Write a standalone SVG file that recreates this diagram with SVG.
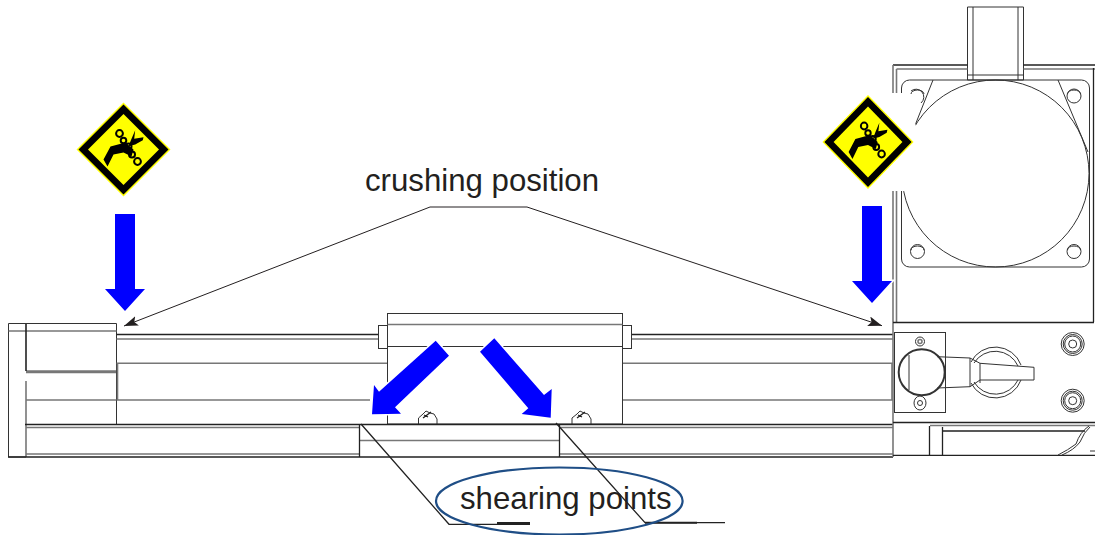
<svg xmlns="http://www.w3.org/2000/svg" xmlns:xlink="http://www.w3.org/1999/xlink" width="1095" height="535" viewBox="0 0 1095 535">
<style>
.l{fill:none;stroke:#333;stroke-width:1}
.d{fill:none;stroke:#222;stroke-width:1.3}
.g{fill:none;stroke:#777;stroke-width:1.600}
.b{fill:#0000ff;stroke:#fff;stroke-width:3;paint-order:stroke}
.t{font-family:"Liberation Sans",Arial,sans-serif;font-size:31.200px;fill:#231f20}
.c{fill:none;stroke:#231f20;stroke-width:1}
</style>
<defs>
<marker id="ah" markerWidth="16" markerHeight="12" refX="14" refY="5" orient="auto" markerUnits="userSpaceOnUse"><path d="M0 0L14 5L0 10L3 5Z" fill="#231f20"/></marker>
<g id="hazard">
<path d="M0-47L47 0L0 47L-47 0Z" fill="#ffff00"/>
<path d="M0-45L45 0L0 45L-45 0Z" fill="#000"/>
<path d="M0-35.500L35.500 0L0 35.500L-35.500 0Z" fill="#ffff00"/>
<path d="M-20 10L-13-3L2-7L10 0L8 7L0 3L-10 5L-16 17Z" fill="#000"/>
<path d="M7.700-10L11.700-19.300L10.700-10.700L20-12.300L19.300-9.300L11.700-5L5-3.300Z" fill="#000"/>
<g fill="none" stroke="#000" stroke-width="2"><circle cx="-4" cy="-16" r="3.400"/><circle cx="0" cy="-9" r="2.800"/><circle cx="5" cy="-3" r="3"/><circle cx="8.500" cy="5" r="3"/><circle cx="14" cy="12" r="3.400"/></g>
</g>
</defs>
<rect width="1095" height="535" fill="#fff"/>
<g id="machine-left">
<path class="l" d="M8.500 323.500H116.500V424M8.500 323.500V457H26"/>
<path class="g" d="M8.500 331H116.500M26 371H116M26 372.500H116M26 381V457M26 400H116"/>
<path d="M26 324V371" fill="none" stroke="#222" stroke-width="1.600"/>
</g>
<g id="rails">
<path class="d" d="M116.500 334.500H378M631 334.500H893"/>
<path class="g" d="M116.500 339H378M631 339H893M116.500 363.300H387.500M622.500 363.300H893M116.500 400H370M622.500 400H893"/>
<path class="g" d="M117.500 364V400M892 364V400"/>
</g>
<g id="carriage">
<rect class="l" x="387.500" y="313.500" width="235" height="110.500"/>
<path class="g" d="M387.500 324.500H622.500"/>
<path class="l" d="M387.500 346.500H622.500"/>
<rect class="l" x="378.500" y="325.500" width="9" height="23"/>
<rect class="l" x="622.500" y="325.500" width="9" height="23"/>
<path class="l" d="M418.500 424V418L423 414L426 411L430 413L434 414L437 419V424M572 424V418L577 414L580 411L584 413L588 414L591 419V424"/>
<path class="d" d="M423 418L431 412M424 415L428 417M577 418L585 412M578 415L582 417"/>
</g>
<g id="base">
<path class="d" d="M25 424.500H893"/>
<path class="g" d="M26 427.500H359.500M559.500 427.500H893M26 454H359.500M559.500 454H893M359.500 440.500H559.500"/>
<path class="d" d="M8 457H893M359.500 424.500V457M559.500 424.500V457"/>
</g>
<g id="machine-right">
<path class="l" d="M967.500 65V7H1023.500V65M973 7V80M1018 7V80M967.500 65V80H1023.500V65M967.500 75H1023.500"/>
<path class="d" d="M893 65H967.500M1023.500 65H1095"/>
<path class="g" d="M896.500 69H967.500M1023.500 69H1095M893 65V457M896.500 69V322"/>
<path class="d" d="M1093.500 68V322"/>
<rect class="l" x="901.500" y="80" width="188" height="187" rx="8"/>
<circle class="l" cx="995.500" cy="173.500" r="93.500"/>
<path class="l" d="M933 80L914 128M1058 80L1088 152"/>
<g class="l">
<circle cx="917.500" cy="251.500" r="7"/><path d="M911 250A6.500 4 0 0 1 924 250"/>
<circle cx="1074" cy="251.500" r="7"/><path d="M1067.500 250A6.500 4 0 0 1 1080.500 250"/>
<circle cx="1074" cy="96" r="7"/><path d="M1067.500 94A6.500 4 0 0 1 1080.500 94"/>
<path d="M911 91A7 7 0 0 1 921 103M911 94A6.500 4 0 0 1 924 94"/>
</g>
<path d="M888 93H905L921 141L905 191H888Z" fill="#fff"/>
<path class="d" d="M893 322.500H1094"/>
<path class="d" d="M893 422.500H1095"/>
<path class="g" d="M930 425.500H1095"/>
<path class="d" d="M942.500 431H1085M942.500 427V455M929.500 426V455"/>
<path class="d" d="M893 455.300H1095"/>
<path class="l" d="M1058 455Q1068 450 1076 444Q1080 432 1089 426M1062 455Q1074 450 1080 442Q1084 432 1090 427M1090 451H1095"/>
<rect class="l" x="894.500" y="332.500" width="51" height="80"/>
<circle cx="921.700" cy="372.300" r="23" fill="none" stroke="#333" stroke-width="2"/>
<path class="l" d="M909 355V390"/>
<circle class="l" cx="920" cy="341.500" r="4.500"/><circle class="g" cx="920" cy="341.500" r="2"/>
<ellipse class="l" cx="920" cy="403" rx="6" ry="7"/><circle class="l" cx="920" cy="403" r="2.500"/>
<path class="l" d="M937 356.700L970 358V386.700L937 388"/>
<path class="l" d="M971 362A27.300 27.300 0 0 1 1021 365M971 383A27.300 27.300 0 0 0 1021 380"/>
<path class="l" d="M974 363A25 25 0 0 1 1018 366M974 382A25 25 0 0 0 1018 380"/>
<path class="l" d="M970 358L980 363.300L1034 367.300V380L980 380L970 386.700M980 363.300V383"/>
<g class="l"><circle cx="1072.700" cy="344" r="11.500"/><circle cx="1072.700" cy="344" r="9.500"/><circle cx="1072.700" cy="344" r="8"/><circle cx="1072.700" cy="344" r="4"/><circle cx="1072.700" cy="400.700" r="11.500"/><circle cx="1072.700" cy="400.700" r="9.500"/><circle cx="1072.700" cy="400.700" r="8"/><circle cx="1072.700" cy="400.700" r="4"/></g>
</g>
<g id="connectors">
<path class="c" d="M527 207H430L124 326" marker-end="url(#ah)"/>
<path class="c" d="M527 207L882 325.700" marker-end="url(#ah)"/>
<path class="d" d="M361 424L449 524.300H530M556 423L645 522.700H725"/>
<path d="M497 523H530M645 522.700H697" stroke="#222" stroke-width="2" fill="none"/>
</g>
<g id="ellipse-label">
<ellipse cx="559.300" cy="501" rx="123.300" ry="33.500" fill="none" stroke="#1f4e86" stroke-width="2.200"/>
<text class="t" x="460" y="509">shearing points</text>
</g>
<text class="t" x="365" y="191">crushing position</text>
<g id="arrows">
<path class="b" d="M115 214H135V289H145L125 311L105 289H115Z"/>
<path class="b" d="M862 206H882V281H892L872 303L852 281H862Z"/>
<path class="b" d="M435.700 340.700L449 355.700L395 407.300L401 413.700L372 414.300L374 385L379 391.700Z"/>
<path class="b" d="M494.300 338.300L480 351.700L528.300 408.300L521.700 414L550.700 417.700L551.700 389L544 395Z"/>
</g>
<use id="hazard-left" xlink:href="#hazard" href="#hazard" transform="translate(123.500 149.500)"/>
<use id="hazard-right" xlink:href="#hazard" href="#hazard" transform="translate(868 142) scale(.97 1)"/>
</svg>
